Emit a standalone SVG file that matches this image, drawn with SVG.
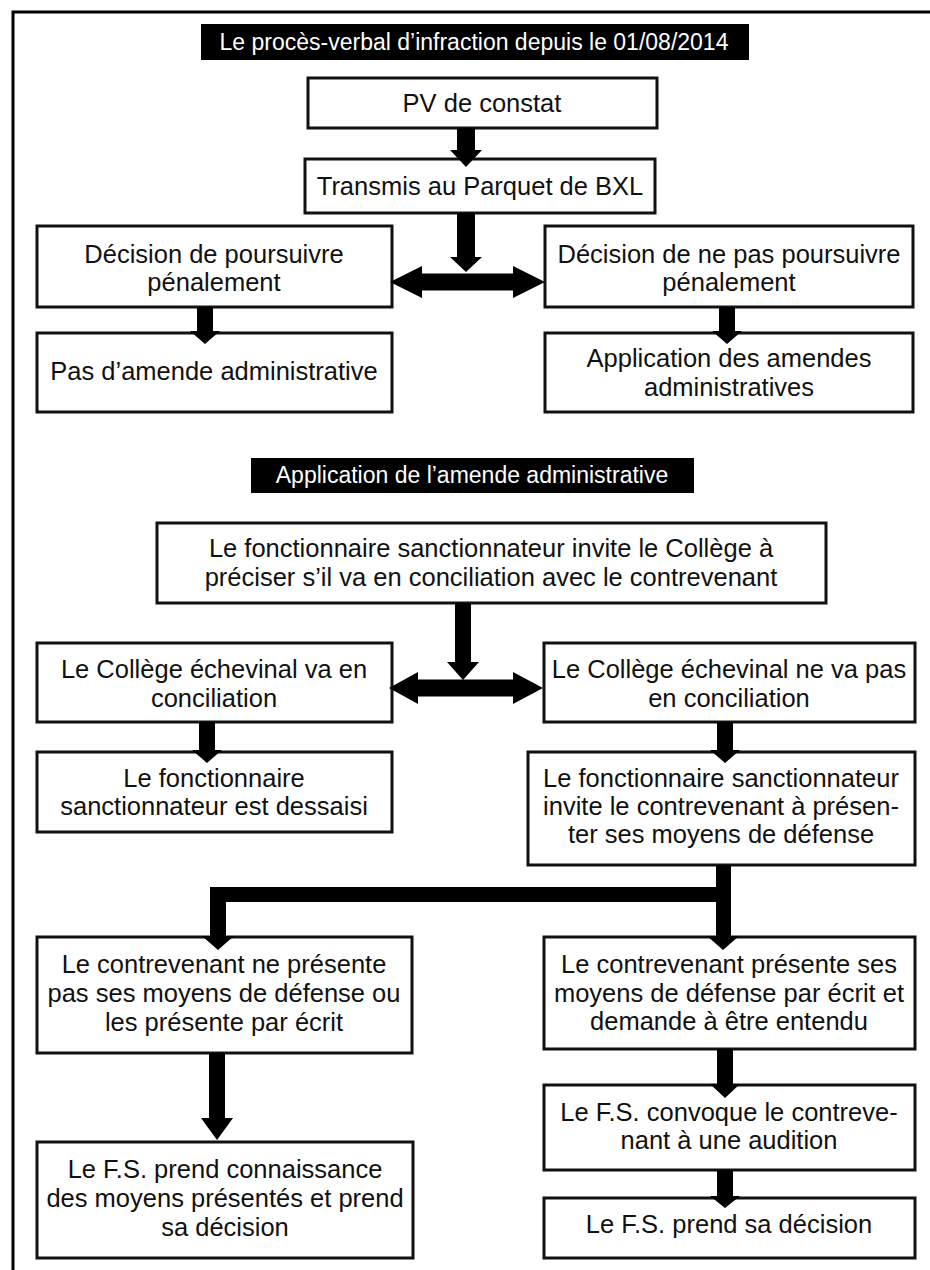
<svg xmlns="http://www.w3.org/2000/svg" width="930" height="1270" viewBox="0 0 930 1270">
<style>
.box{fill:#fff;stroke:#111;stroke-width:3}
.hdr{fill:#000}
.t{font-family:"Liberation Sans",Arial,sans-serif;font-size:25.5px;fill:#111;text-anchor:middle}
.ht{font-family:"Liberation Sans",Arial,sans-serif;font-size:23px;fill:#fff;text-anchor:middle}
.c{fill:#000}
</style>
<rect width="930" height="1270" fill="#fff"/>
<path d="M13,1270 V12 H930" fill="none" stroke="#000" stroke-width="3"/>

<g id="h1"><rect class="hdr" x="201" y="24" width="548" height="36"/><text class="ht" x="474" y="50">Le procès-verbal d’infraction depuis le 01/08/2014</text></g>
<g id="n1"><rect class="box" x="308" y="78" width="349" height="50"/><text class="t" x="482" y="112">PV de constat</text></g>
<g id="n2"><rect class="box" x="305" y="159" width="350" height="54"/><text class="t" x="480" y="195">Transmis au Parquet de BXL</text></g>
<g id="n3"><rect class="box" x="37" y="226" width="355" height="81"/><text class="t" x="214" y="263">Décision de poursuivre</text><text class="t" x="214" y="291">pénalement</text></g>
<g id="n4"><rect class="box" x="545" y="226" width="368" height="81"/><text class="t" x="729" y="263">Décision de ne pas poursuivre</text><text class="t" x="729" y="291">pénalement</text></g>
<g id="n5"><rect class="box" x="37" y="333" width="355" height="79"/><text class="t" x="214" y="380">Pas d’amende administrative</text></g>
<g id="n6"><rect class="box" x="545" y="333" width="368" height="79"/><text class="t" x="729" y="367">Application des amendes</text><text class="t" x="729" y="396">administratives</text></g>

<g id="h2"><rect class="hdr" x="251" y="458" width="443" height="35"/><text class="ht" x="472" y="483">Application de l’amende administrative</text></g>
<g id="n7"><rect class="box" x="157" y="523" width="669" height="80"/><text class="t" x="491" y="557">Le fonctionnaire sanctionnateur invite le Collège à</text><text class="t" x="491" y="586">préciser s’il va en conciliation avec le contrevenant</text></g>
<g id="n8"><rect class="box" x="37" y="643" width="355" height="79"/><text class="t" x="214" y="678">Le Collège échevinal va en</text><text class="t" x="214" y="707">conciliation</text></g>
<g id="n9"><rect class="box" x="544" y="643" width="371" height="79"/><text class="t" x="729" y="678">Le Collège échevinal ne va pas</text><text class="t" x="729" y="707">en conciliation</text></g>
<g id="n10"><rect class="box" x="37" y="752" width="355" height="80"/><text class="t" x="214" y="787">Le fonctionnaire</text><text class="t" x="214" y="815">sanctionnateur est dessaisi</text></g>
<g id="n11"><rect class="box" x="528" y="752" width="387" height="113"/><text class="t" x="721" y="787">Le fonctionnaire sanctionnateur</text><text class="t" x="721" y="815">invite le contrevenant à présen-</text><text class="t" x="721" y="843">ter ses moyens de défense</text></g>
<g id="n12"><rect class="box" x="37" y="937" width="375" height="116"/><text class="t" x="224" y="973">Le contrevenant ne présente</text><text class="t" x="224" y="1002">pas ses moyens de défense ou</text><text class="t" x="224" y="1031">les présente par écrit</text></g>
<g id="n13"><rect class="box" x="544" y="937" width="371" height="112"/><text class="t" x="729" y="973">Le contrevenant présente ses</text><text class="t" x="729" y="1002">moyens de défense par écrit et</text><text class="t" x="729" y="1030">demande à être entendu</text></g>
<g id="n14"><rect class="box" x="37" y="1142" width="376" height="116"/><text class="t" x="225" y="1178">Le F.S. prend connaissance</text><text class="t" x="225" y="1207">des moyens présentés et prend</text><text class="t" x="225" y="1236">sa décision</text></g>
<g id="n15"><rect class="box" x="544" y="1085" width="371" height="85"/><text class="t" x="729" y="1121">Le F.S. convoque le contreve-</text><text class="t" x="729" y="1149">nant à une audition</text></g>
<g id="n16"><rect class="box" x="544" y="1198" width="371" height="60"/><text class="t" x="729" y="1233">Le F.S. prend sa décision</text></g>

<g id="connectors">
<polygon class="c" points="457,128 475,128 475,150 482,150 466,167 450,150 457,150"/>
<polygon class="c" points="457,213 475,213 475,257 482,257 466,272 450,257 457,257"/>
<polygon class="c" points="390,282 422,266 422,273.5 513,273.5 513,266 545,282 513,298 513,290.5 422,290.5 422,298"/>
<polygon class="c" points="197,307 213,307 213,331 220,331 205,344 190,331 197,331"/>
<polygon class="c" points="719,307 735,307 735,331 742,331 727,344 712,331 719,331"/>
<polygon class="c" points="455,603 471,603 471,662 479,662 463,680 447,662 455,662"/>
<polygon class="c" points="389,688 418,672 418,679.5 513,679.5 513,672 543,688 513,704 513,696.5 418,696.5 418,704"/>
<polygon class="c" points="199,722 215,722 215,750 222,750 207,763 192,750 199,750"/>
<polygon class="c" points="717,722 733,722 733,750 740,750 725,763 710,750 717,750"/>
<polygon class="c" points="716,865 731,865 731,936 739,936 723,950 707,936 716,936"/>
<rect class="c" x="210" y="887" width="521" height="15"/>
<polygon class="c" points="210,887 226,887 226,936 234,936 218,950 202,936 210,936"/>
<polygon class="c" points="209,1053 225,1053 225,1118 233,1118 217,1140 201,1118 209,1118"/>
<polygon class="c" points="717,1049 733,1049 733,1084 740,1084 725,1098 710,1084 717,1084"/>
<polygon class="c" points="717,1170 733,1170 733,1196 740,1196 725,1208 710,1196 717,1196"/>
</g>
</svg>
